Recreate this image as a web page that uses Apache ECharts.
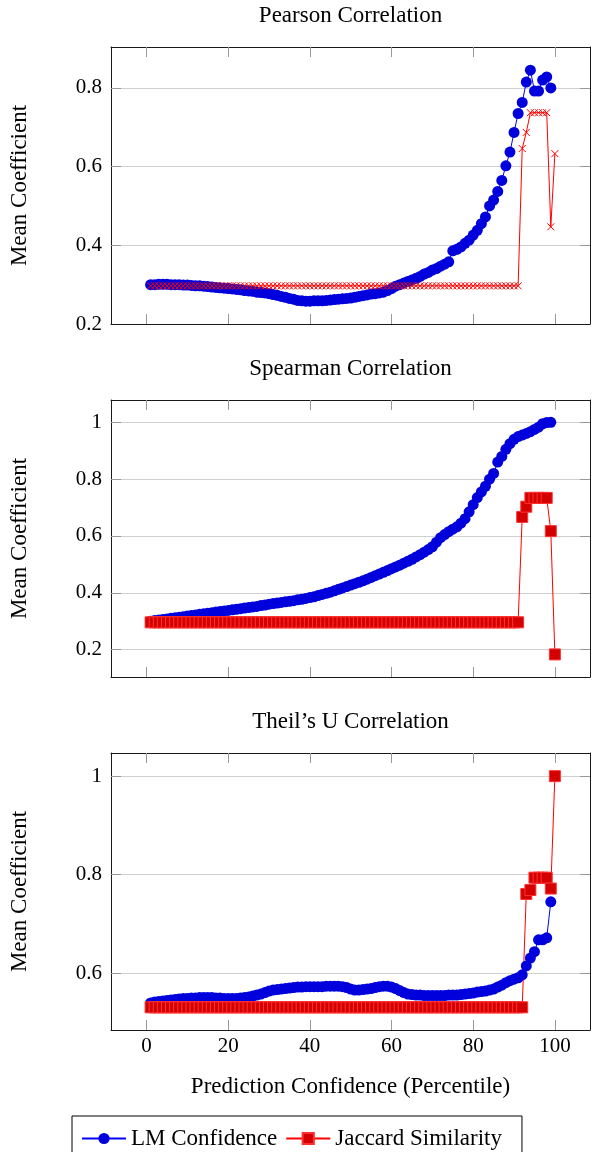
<!DOCTYPE html>
<html>
<head>
<meta charset="utf-8">
<script src="https://cdn.jsdelivr.net/npm/echarts@6.0.0/dist/echarts.min.js"></script>
<style>
  html, body { margin: 0; padding: 0; background: #fff; }
  #chart { width: 594px; height: 1152px; }
</style>
</head>
<body>
<div id="chart"></div>
<script>
// prediction confidence percentile of every point
const percentile = [
  1, 2, 3, 4, 5, 6, 7, 8, 9, 10, 11, 12, 13, 14, 15, 16, 17, 18, 19, 20,
  21, 22, 23, 24, 25, 26, 27, 28, 29, 30, 31, 32, 33, 34, 35, 36, 37, 38, 39, 40,
  41, 42, 43, 44, 45, 46, 47, 48, 49, 50, 51, 52, 53, 54, 55, 56, 57, 58, 59, 60,
  61, 62, 63, 64, 65, 66, 67, 68, 69, 70, 71, 72, 73, 74, 75, 76, 77, 78, 79, 80,
  81, 82, 83, 84, 85, 86, 87, 88, 89, 90, 91, 92, 93, 94, 95, 96, 97, 98, 99, 100
]
const xTicks = [0, 20, 40, 60, 80, 100]

// Pearson
const pearsonLM = [
  0.300, 0.300, 0.301, 0.301, 0.301, 0.300, 0.300, 0.300, 0.299, 0.299,
  0.298, 0.297, 0.297, 0.296, 0.295, 0.294, 0.293, 0.292, 0.291, 0.290,
  0.289, 0.288, 0.287, 0.285, 0.284, 0.283, 0.281, 0.280, 0.279, 0.277,
  0.275, 0.273, 0.270, 0.268, 0.265, 0.263, 0.260, 0.259, 0.258, 0.258,
  0.259, 0.259, 0.259, 0.260, 0.261, 0.262, 0.263, 0.264, 0.265, 0.266,
  0.268, 0.270, 0.272, 0.274, 0.276, 0.277, 0.279, 0.281, 0.285, 0.290,
  0.296, 0.300, 0.304, 0.308, 0.312, 0.316, 0.321, 0.327, 0.331, 0.337,
  0.341, 0.347, 0.352, 0.358, 0.386, 0.390, 0.396, 0.405, 0.413, 0.426,
  0.438, 0.455, 0.472, 0.500, 0.515, 0.537, 0.565, 0.602, 0.637, 0.687,
  0.735, 0.763, 0.815, 0.845, 0.792, 0.792, 0.820, 0.828, 0.800
]
const pearsonJaccard = [
  0.297, 0.297, 0.297, 0.297, 0.297, 0.297, 0.297, 0.297, 0.297, 0.297,
  0.297, 0.297, 0.297, 0.297, 0.297, 0.297, 0.297, 0.297, 0.297, 0.297,
  0.297, 0.297, 0.297, 0.297, 0.297, 0.297, 0.297, 0.297, 0.297, 0.297,
  0.297, 0.297, 0.297, 0.297, 0.297, 0.297, 0.297, 0.297, 0.297, 0.297,
  0.297, 0.297, 0.297, 0.297, 0.297, 0.297, 0.297, 0.297, 0.297, 0.297,
  0.297, 0.297, 0.297, 0.297, 0.297, 0.297, 0.297, 0.297, 0.297, 0.297,
  0.297, 0.297, 0.297, 0.297, 0.297, 0.297, 0.297, 0.297, 0.297, 0.297,
  0.297, 0.297, 0.297, 0.297, 0.297, 0.297, 0.297, 0.297, 0.297, 0.297,
  0.297, 0.297, 0.297, 0.297, 0.297, 0.297, 0.297, 0.297, 0.297, 0.297,
  0.297, 0.646, 0.687, 0.737, 0.737, 0.737, 0.737, 0.737, 0.447, 0.633
]

// Spearman
const spearmanLM = [
  0.300, 0.302, 0.304, 0.306, 0.308, 0.310, 0.312, 0.314, 0.316, 0.318,
  0.320, 0.322, 0.324, 0.326, 0.328, 0.330, 0.332, 0.334, 0.336, 0.338,
  0.340, 0.342, 0.344, 0.346, 0.348, 0.350, 0.352, 0.355, 0.357, 0.360,
  0.362, 0.364, 0.366, 0.368, 0.370, 0.372, 0.375, 0.377, 0.380, 0.383,
  0.386, 0.390, 0.394, 0.398, 0.402, 0.407, 0.412, 0.417, 0.422, 0.427,
  0.432, 0.437, 0.442, 0.448, 0.454, 0.460, 0.466, 0.472, 0.478, 0.485,
  0.491, 0.497, 0.504, 0.511, 0.518, 0.526, 0.534, 0.543, 0.552, 0.562,
  0.578, 0.594, 0.605, 0.615, 0.624, 0.632, 0.645, 0.661, 0.685, 0.710,
  0.735, 0.755, 0.775, 0.800, 0.820, 0.860, 0.880, 0.905, 0.925, 0.940,
  0.950, 0.955, 0.961, 0.967, 0.975, 0.983, 0.995, 0.999, 1.000
]
const spearmanJaccard = [
  0.296, 0.296, 0.296, 0.296, 0.296, 0.296, 0.296, 0.296, 0.296, 0.296,
  0.296, 0.296, 0.296, 0.296, 0.296, 0.296, 0.296, 0.296, 0.296, 0.296,
  0.296, 0.296, 0.296, 0.296, 0.296, 0.296, 0.296, 0.296, 0.296, 0.296,
  0.296, 0.296, 0.296, 0.296, 0.296, 0.296, 0.296, 0.296, 0.296, 0.296,
  0.296, 0.296, 0.296, 0.296, 0.296, 0.296, 0.296, 0.296, 0.296, 0.296,
  0.296, 0.296, 0.296, 0.296, 0.296, 0.296, 0.296, 0.296, 0.296, 0.296,
  0.296, 0.296, 0.296, 0.296, 0.296, 0.296, 0.296, 0.296, 0.296, 0.296,
  0.296, 0.296, 0.296, 0.296, 0.296, 0.296, 0.296, 0.296, 0.296, 0.296,
  0.296, 0.296, 0.296, 0.296, 0.296, 0.296, 0.296, 0.296, 0.296, 0.296,
  0.296, 0.667, 0.703, 0.734, 0.734, 0.734, 0.734, 0.734, 0.617, 0.183
]

// Theil's U
const theilLM = [
  0.540, 0.542, 0.543, 0.544, 0.545, 0.546, 0.547, 0.548, 0.549, 0.549,
  0.550, 0.550, 0.551, 0.551, 0.551, 0.551, 0.550, 0.550, 0.549, 0.549,
  0.549, 0.549, 0.550, 0.551, 0.552, 0.554, 0.556, 0.558, 0.561, 0.564,
  0.566, 0.567, 0.568, 0.569, 0.570, 0.571, 0.572, 0.572, 0.573, 0.573,
  0.573, 0.573, 0.573, 0.574, 0.574, 0.574, 0.574, 0.573, 0.571, 0.568,
  0.566, 0.566, 0.567, 0.568, 0.569, 0.571, 0.573, 0.574, 0.574, 0.572,
  0.569, 0.565, 0.561, 0.558, 0.557, 0.556, 0.556, 0.555, 0.555, 0.555,
  0.555, 0.555, 0.555, 0.556, 0.556, 0.556, 0.557, 0.558, 0.559, 0.560,
  0.562, 0.563, 0.564, 0.566, 0.568, 0.572, 0.576, 0.581, 0.585, 0.588,
  0.591, 0.597, 0.615, 0.631, 0.644, 0.668, 0.668, 0.672, 0.745
]
const theilJaccard = [
  0.531, 0.531, 0.531, 0.531, 0.531, 0.531, 0.531, 0.531, 0.531, 0.531,
  0.531, 0.531, 0.531, 0.531, 0.531, 0.531, 0.531, 0.531, 0.531, 0.531,
  0.531, 0.531, 0.531, 0.531, 0.531, 0.531, 0.531, 0.531, 0.531, 0.531,
  0.531, 0.531, 0.531, 0.531, 0.531, 0.531, 0.531, 0.531, 0.531, 0.531,
  0.531, 0.531, 0.531, 0.531, 0.531, 0.531, 0.531, 0.531, 0.531, 0.531,
  0.531, 0.531, 0.531, 0.531, 0.531, 0.531, 0.531, 0.531, 0.531, 0.531,
  0.531, 0.531, 0.531, 0.531, 0.531, 0.531, 0.531, 0.531, 0.531, 0.531,
  0.531, 0.531, 0.531, 0.531, 0.531, 0.531, 0.531, 0.531, 0.531, 0.531,
  0.531, 0.531, 0.531, 0.531, 0.531, 0.531, 0.531, 0.531, 0.531, 0.531,
  0.531, 0.531, 0.761, 0.769, 0.794, 0.794, 0.794, 0.794, 0.772, 1.000
]

const FONT = 'Liberation Serif'
const BLUE = '#0000dc'
const RED = '#ff0000'
const GRID_LEFT = 111
const GRID_W = 479
const GRID_H = 277

const panels = [
  { title: 'Pearson Correlation', top: 47, min: 0.2, max: 0.904,
    yTicks: [0.2, 0.4, 0.6, 0.8], lm: pearsonLM, jaccard: pearsonJaccard, cross: true },
  { title: 'Spearman Correlation', top: 400, min: 0.1035, max: 1.0786,
    yTicks: [0.2, 0.4, 0.6, 0.8, 1], lm: spearmanLM, jaccard: spearmanJaccard },
  { title: 'Theil\u2019s U Correlation', top: 753, min: 0.485, max: 1.047,
    yTicks: [0.6, 0.8, 1], lm: theilLM, jaccard: theilJaccard, last: true }
]

function pairs (ys) {
  return ys.map((y, i) => [percentile[i], y])
}

let grid = []
let xAxis = []
let yAxis = []
let graphic = []
let lmSeries = []
let jaccardSeries = []

panels.forEach((p, i) => {
  grid.push({ left: GRID_LEFT, top: p.top, width: GRID_W, height: GRID_H })
  graphic.push({
    type: 'text', x: GRID_LEFT + GRID_W / 2, y: p.top - 31,
    style: { text: p.title, font: '23px "' + FONT + '"', fill: '#000', align: 'center', verticalAlign: 'middle' }
  })
  let frame = { show: true, onZero: false, lineStyle: { color: '#1a1a1a', width: 1 } }
  let tick = { show: true, inside: true, length: 10, lineStyle: { color: '#999' }, customValues: xTicks }
  // x axes sit above the y grid lines / ticks so the frame is not covered
  xAxis.push({
    gridIndex: i, type: 'value', position: 'bottom', min: -8.7, max: 108.6, z: 3,
    axisLine: frame, axisTick: tick, splitLine: { show: false },
    axisLabel: { show: !!p.last, customValues: xTicks, margin: 6, fontFamily: FONT, fontSize: 21, color: '#000' },
    name: p.last ? 'Prediction Confidence (Percentile)' : '',
    nameLocation: 'middle', nameGap: 45,
    nameTextStyle: { fontFamily: FONT, fontSize: 23, color: '#000' }
  })
  xAxis.push({
    gridIndex: i, type: 'value', position: 'top', min: -8.7, max: 108.6, z: 3,
    axisLine: frame, axisTick: tick, axisLabel: { show: false }, splitLine: { show: false }
  })
  let yTick = { show: true, inside: true, length: 10, lineStyle: { color: '#999' }, customValues: p.yTicks }
  yAxis.push({
    gridIndex: i, type: 'value', position: 'left', min: p.min, max: p.max,
    axisLine: frame, axisTick: yTick,
    axisLabel: { customValues: p.yTicks, margin: 9, fontFamily: FONT, fontSize: 21, color: '#000' },
    splitLine: { show: true, lineStyle: { color: '#d0d0d0', width: 1 } },
    name: 'Mean Coefficient', nameLocation: 'middle', nameGap: 80,
    nameTextStyle: { fontFamily: FONT, fontSize: 23, color: '#000' }
  })
  yAxis.push({
    gridIndex: i, type: 'value', position: 'right', min: p.min, max: p.max,
    axisLine: frame, axisTick: yTick, axisLabel: { show: false }, splitLine: { show: false }
  })

  lmSeries.push({
    name: 'LM Confidence', type: 'line', xAxisIndex: 2 * i, yAxisIndex: 2 * i,
    data: pairs(p.lm), symbol: 'circle', symbolSize: 11,
    itemStyle: { color: BLUE },
    lineStyle: { color: '#0000ff', width: 1 }
  })
  jaccardSeries.push(p.cross ? {
    name: 'Jaccard Similarity', type: 'line', xAxisIndex: 2 * i, yAxisIndex: 2 * i,
    data: pairs(p.jaccard), symbol: 'path://M0,0L10,10M10,0L0,10', symbolSize: 7,
    itemStyle: { color: RED, borderColor: RED, borderWidth: 1 },
    lineStyle: { color: RED, width: 1 }
  } : {
    name: 'Jaccard Similarity', type: 'line', xAxisIndex: 2 * i, yAxisIndex: 2 * i,
    data: pairs(p.jaccard), symbol: 'rect', symbolSize: 11,
    itemStyle: { color: '#d40000', borderColor: '#ff3030', borderWidth: 1 },
    lineStyle: { color: RED, width: 1 }
  })
})

// spearman / theil first so the legend takes the square marker
let series = []
;[1, 2, 0].forEach(i => { series.push(lmSeries[i], jaccardSeries[i]) })

const chart = echarts.init(document.getElementById('chart'), null, { renderer: 'canvas' })
chart.setOption({
  animation: false,
  backgroundColor: '#fff',
  grid: grid,
  xAxis: xAxis,
  yAxis: yAxis,
  graphic: graphic,
  legend: {
    data: ['LM Confidence', 'Jaccard Similarity'],
    left: 72, top: 1116,
    padding: [11, 20, 12, 9],
    itemGap: 8, itemWidth: 44, itemHeight: 14,
    borderColor: '#000', borderWidth: 1, borderRadius: 0,
    textStyle: { fontFamily: FONT, fontSize: 23, color: '#000' }
  },
  series: series
})
</script>
</body>
</html>
